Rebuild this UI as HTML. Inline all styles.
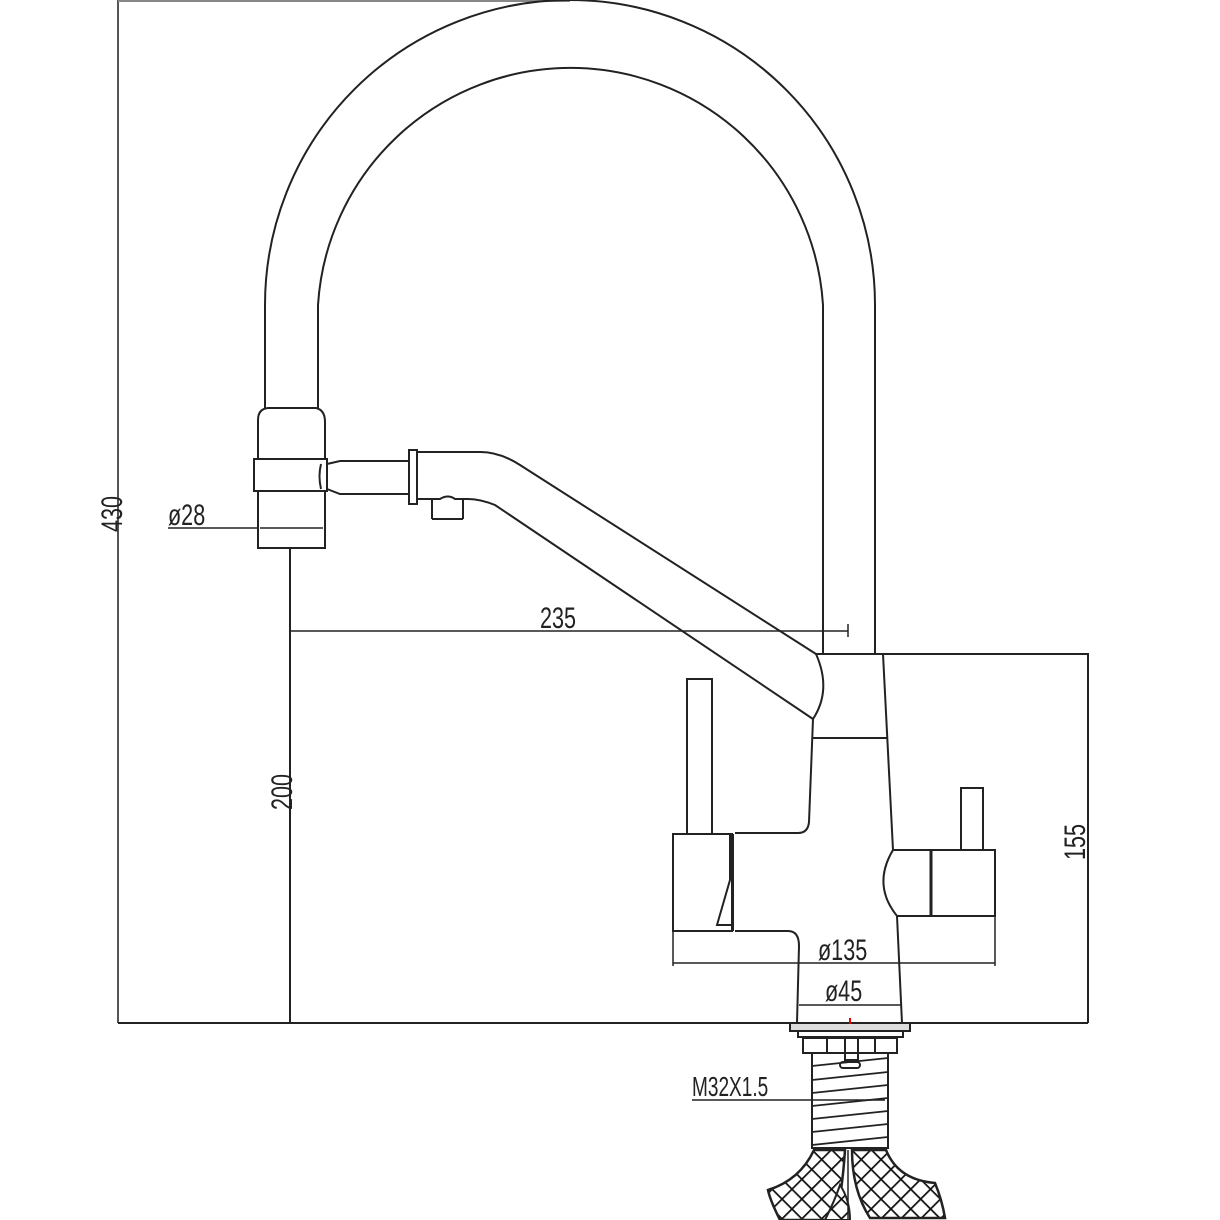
<!DOCTYPE html>
<html><head><style>html,body{margin:0;padding:0;background:#fff}svg{display:block}</style></head>
<body>
<svg width="1220" height="1220" viewBox="0 0 1220 1220" xmlns="http://www.w3.org/2000/svg">
<defs>
<pattern id="hatch" width="14" height="14" patternUnits="userSpaceOnUse" patternTransform="rotate(45)">
<rect width="14" height="14" fill="#fff"/>
<path d="M0 0H14M0 0V14" stroke="#111" stroke-width="3.5"/>
</pattern>
</defs>
<g fill="none" stroke="#222" stroke-width="2">
<!-- outer dims -->
<path d="M118 0V1023" stroke="#555"/>
<path d="M118 1H570" stroke="#888"/>
<path d="M118 1023H1088" stroke-width="2"/>
<path d="M883 654H1088V1023"/>
<!-- arc -->
<path d="M265 408V305A305 305 0 0 1 875 305V654"/>
<path d="M318 408V305A253 253 0 0 1 823 305V654"/>
<!-- left collar -->
<path d="M258 459V420Q258 409 268 408H316Q325 410 325 422V459"/>
<rect x="254" y="459" width="73" height="32"/>
<path d="M258 491V548H325V491"/>
<path d="M260 528H323" stroke-width="1.5"/>
<path d="M168 528H258" stroke-width="1.5"/>
<path d="M290 548V1023"/>
<path d="M290 631H848M848 624V637" stroke-width="1.5"/>
<!-- horizontal tube -->
<path d="M327 464L340 461H409M327 489L340 494H409"/>
<path d="M321 464Q318 476 321 489"/>
<rect x="409" y="450" width="8" height="54"/>
<path d="M417 452H480Q500 452 520 465L816 654"/>
<path d="M417 499H440Q448 494 455 499H468Q480 499 495 505L813 719"/>
<path d="M432 519V499M463 519V499M432 519H463"/>
<!-- spout cap -->
<path d="M816 654Q832 690 813 719"/>
<path d="M816 654H883"/>
<path d="M813 738H887"/>
<!-- body -->
<path d="M813 719L809 822Q808 833 798 833H735"/>
<path d="M883 654L893 850"/>
<path d="M897 916L902 1023"/>
<path d="M797 1023L799 946Q799 931 788 931H735"/>
<!-- left lever -->
<rect x="687" y="679" width="25" height="155"/>
<path d="M673 834H732V931H673Z"/>
<path d="M730 834V880L717 925H733V834M733 834V931"/>
<!-- right lever -->
<rect x="961" y="788" width="22" height="62"/>
<path d="M893 850H995V916H897Q872 885 893 850Z"/>
<path d="M931 850V916" stroke-width="3"/>
<!-- dims 135/45 -->
<path d="M673 931V966M995 916V966M673 963H995" stroke-width="1.5"/>
<path d="M799 1005H902" stroke-width="1.5"/>
<!-- base -->
<path d="M790 1023H910V1031H790Z" fill="#ddd"/>
<path d="M798 1031H903V1037H798Z"/>
<path d="M803 1038H897V1053H803Z"/>
<path d="M827 1038V1053M845 1038V1060H858V1038M875 1038V1053"/>
<rect x="840" y="1062" width="20" height="6" rx="3"/>
<path d="M812 1053V1148H888V1053"/>
<path d="M812 1066L888 1058M812 1080L888 1072M812 1093L888 1085M812 1106L888 1098M812 1119L888 1111M812 1132L888 1124M812 1145L888 1137" stroke-width="1.8"/>
<path d="M692 1100H885" stroke-width="1.5"/>
<!-- hoses -->
<path d="M814 1150H845Q842 1195 835 1220H780Q770 1200 768 1190Q800 1180 814 1150Z" fill="url(#hatch)" stroke-width="2.5"/>
<path d="M852 1150H886Q898 1180 935 1183Q942 1200 945 1218H870Q852 1190 852 1150Z" fill="url(#hatch)" stroke-width="2.5"/>
<path d="M840 1185Q850 1200 850 1220H825Q835 1200 840 1185Z" fill="url(#hatch)" stroke-width="2"/>
<path d="M848 1150V1220" stroke-width="1.5"/>
</g>
<line x1="850" y1="1018" x2="850" y2="1024" stroke="#e00" stroke-width="2"/>
<g font-family="Liberation Sans, sans-serif" font-size="30" fill="#222">
<text transform="translate(122 532) rotate(-90) scale(0.72 1)">430</text>
<text transform="translate(292 810) rotate(-90) scale(0.72 1)">200</text>
<text transform="translate(1085 860) rotate(-90) scale(0.72 1)">155</text>
<text transform="translate(540 628) scale(0.72 1)">235</text>
<text transform="translate(168 525) scale(0.72 1)">ø28</text>
<text transform="translate(818 960) scale(0.72 1)">ø135</text>
<text transform="translate(825 1001) scale(0.72 1)">ø45</text>
<text transform="translate(692 1096) scale(0.68 1)" font-size="28">M32X1.5</text>
</g>
</svg>
</body></html>
